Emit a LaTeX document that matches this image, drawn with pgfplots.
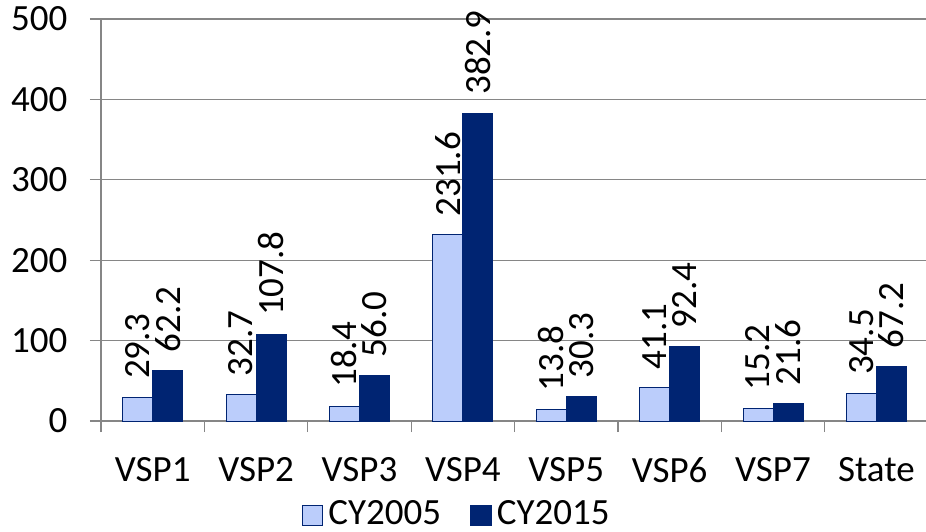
\documentclass[border=0pt]{standalone}
\usepackage{pgfplots}
\pgfplotsset{compat=1.18}
\usepackage{fontspec}
\setmainfont{Carlito}
\definecolor{lightbar}{RGB}{187,205,251}
\definecolor{darkbar}{RGB}{0,36,114}
\definecolor{gridgray}{RGB}{134,134,134}
\begin{document}
\fontsize{18.5}{22}\selectfont
\begin{tikzpicture}
\useasboundingbox (-50.5pt,-55pt) rectangle (412.5pt,210.5pt);
\begin{axis}[
    at={(0pt,0pt)}, anchor=south west,
    scale only axis, width=412.5pt, height=201pt,
    xmin=-0.5, xmax=7.48, ymin=0, ymax=500,
    ytick={0,100,...,500},
    ymajorgrids, grid style={gridgray, line width=0.6pt},
    axis lines*=left, axis line style={gridgray, line width=0.6pt},
    tick align=outside, major tick length=5.5pt,
    tick style={gridgray, line width=0.6pt},
    /pgf/number format/assume math mode=true,
    xtick={-0.5,0.5,...,6.5}, xticklabels={},
    extra x ticks={0,...,7},
    extra x tick labels={VSP1,VSP2,VSP3,VSP4,VSP5,VSP6,VSP7,State},
    extra x tick style={major tick length=0pt, grid=none, xticklabel style={yshift=-12pt}},
    yticklabel style={xshift=-5pt},
    ybar=0pt, bar width=15pt,
    clip=false,
    nodes near coords,
    nodes near coords style={/pgf/number format/.cd, fixed, fixed zerofill, precision=1, assume math mode=true,
        /tikz/.cd, rotate=90, anchor=west, inner xsep=9pt, inner ysep=0pt, black},
    legend style={at={(0.433,-0.235)}, anchor=center, draw=none, fill=none,
        legend columns=2, /tikz/every even column/.append style={column sep=12pt},
        nodes={inner sep=2.5pt}},
]
\addplot[fill=lightbar, draw=darkbar, line width=0.5pt,
    legend image code/.code={\draw[fill=lightbar, draw=darkbar, line width=0.8pt] (0pt,-5pt) rectangle (10pt,5pt);}]
    coordinates {(0,29.3) (1,32.7) (2,18.4) (3,231.6) (4,13.8) (5,41.1) (6,15.2) (7,34.5)};
\addplot[fill=darkbar, draw=darkbar, line width=0.5pt,
    legend image code/.code={\draw[fill=darkbar, draw=darkbar, line width=0.8pt] (0pt,-5pt) rectangle (10pt,5pt);}]
    coordinates {(0,62.2) (1,107.8) (2,56.0) (3,382.9) (4,30.3) (5,92.4) (6,21.6) (7,67.2)};
\legend{CY2005,CY2015}
\end{axis}
\end{tikzpicture}
\end{document}
